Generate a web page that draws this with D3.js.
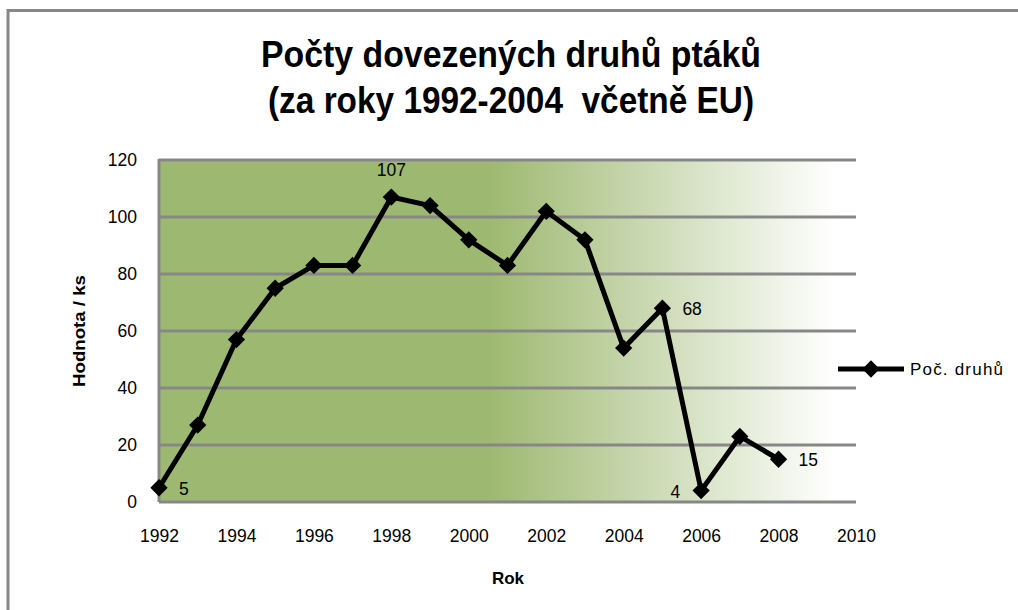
<!DOCTYPE html>
<html>
<head>
<meta charset="utf-8">
<script src="https://cdn.jsdelivr.net/npm/d3@7"></script>
<style>
  body { margin: 0; background: #fff; }
  text { font-family: "Liberation Sans", Arial, sans-serif; fill: #000; white-space: pre; }
</style>
</head>
<body>
<script>
// ---- data ----
const years = [1992, 1993, 1994, 1995, 1996, 1997, 1998, 1999, 2000, 2001, 2002, 2003, 2004, 2005, 2006, 2007, 2008];
const counts = [5, 27, 57, 75, 83, 83, 107, 104, 92, 83, 102, 92, 54, 68, 4, 23, 15];
const xTicks = [1992, 1994, 1996, 1998, 2000, 2002, 2004, 2006, 2008, 2010];
const yTicks = [0, 20, 40, 60, 80, 100, 120];
// which points carry a value label, and on which side
const labelYears = [1992, 1998, 2005, 2006, 2008];
const labelSides = ["right", "top", "right", "left", "right"];
const titleLines = ["Počty dovezených druhů ptáků", "(za roky 1992-2004  včetně EU)"];
const seriesName = "Poč. druhů";

const W = 1018, H = 610;
const plot = {left: 159, top: 160, right: 856, bottom: 502};

const svg = d3.select("body").append("svg")
  .attr("width", W).attr("height", H);

// outer chart frame (runs off the right and bottom edges)
svg.append("rect")
  .attr("x", 8).attr("y", 10.5)
  .attr("width", W + 20).attr("height", H + 20)
  .attr("fill", "#fff").attr("stroke", "#878787").attr("stroke-width", 3);

// title - squeezed to the narrow look of the original font
svg.selectAll(".title").data(titleLines).enter().append("text")
  .attr("class", "title")
  .attr("x", 511)
  .attr("y", (d, i) => 67 + i * 46)
  .attr("text-anchor", "middle")
  .attr("font-size", 36).attr("font-weight", "bold")
  .attr("textLength", (d, i) => i === 0 ? 500 : 486)
  .attr("lengthAdjust", "spacingAndGlyphs")
  .text(d => d);

const x = d3.scaleLinear().domain([1992, 2010]).range([plot.left, plot.right]);
const y = d3.scaleLinear().domain([0, 120]).range([plot.bottom, plot.top]);

// plot background gradient
const defs = svg.append("defs");
const grad = defs.append("linearGradient").attr("id", "bg")
  .attr("x1", "0%").attr("x2", "100%").attr("y1", "0%").attr("y2", "0%");
grad.append("stop").attr("offset", "0%").attr("stop-color", "#9db870");
grad.append("stop").attr("offset", "47%").attr("stop-color", "#9db870");
grad.append("stop").attr("offset", "97%").attr("stop-color", "#ffffff");
grad.append("stop").attr("offset", "100%").attr("stop-color", "#ffffff");

svg.append("rect")
  .attr("x", plot.left).attr("y", plot.top)
  .attr("width", plot.right - plot.left).attr("height", plot.bottom - plot.top)
  .attr("fill", "url(#bg)");

// gridlines
svg.append("g").selectAll("line").data(yTicks.filter(t => t > 0)).enter().append("line")
  .attr("x1", plot.left).attr("x2", plot.right)
  .attr("y1", d => y(d)).attr("y2", d => y(d))
  .attr("stroke", "#878787").attr("stroke-width", 3);

// axes
const yAxis = svg.append("g")
  .attr("transform", `translate(${plot.left},0)`)
  .call(d3.axisLeft(y).tickValues(yTicks).tickSize(0).tickPadding(22));
const xAxis = svg.append("g")
  .attr("transform", `translate(0,${plot.bottom})`)
  .call(d3.axisBottom(x).tickValues(xTicks).tickFormat(d3.format("d")).tickSize(0).tickPadding(28));

[yAxis, xAxis].forEach(g => {
  g.select(".domain").attr("stroke", "#878787").attr("stroke-width", 3);
  g.selectAll("text").attr("font-size", 17.5).attr("font-family", "Liberation Sans, Arial, sans-serif");
});
yAxis.select(".domain").attr("d", `M0,${plot.top - 1}V${plot.bottom}`);
xAxis.select(".domain").attr("d", `M${plot.left},0H${plot.right}`);

// axis titles
svg.append("text")
  .attr("transform", "translate(85,331) rotate(-90)")
  .attr("text-anchor", "middle")
  .attr("font-size", 17).attr("font-weight", "bold")
  .attr("textLength", 112).attr("lengthAdjust", "spacingAndGlyphs")
  .text("Hodnota / ks");
svg.append("text")
  .attr("x", 508).attr("y", 584)
  .attr("text-anchor", "middle")
  .attr("font-size", 17).attr("font-weight", "bold")
  .text("Rok");

// series
const points = years.map((yr, i) => ({year: yr, value: counts[i]}));
const line = d3.line().x(d => x(d.year)).y(d => y(d.value));

svg.append("path")
  .datum(points)
  .attr("d", line)
  .attr("fill", "none").attr("stroke", "#000").attr("stroke-width", 5)
  .attr("stroke-linejoin", "round");

const diamond = d3.symbol().type(d3.symbolDiamond2).size(190);
svg.append("g").selectAll("path").data(points).enter().append("path")
  .attr("transform", d => `translate(${x(d.year)},${y(d.value)})`)
  .attr("d", diamond)
  .attr("fill", "#000");

// value labels
const labelData = labelYears.map((yr, i) => ({year: yr, value: counts[years.indexOf(yr)], side: labelSides[i]}));
svg.append("g").selectAll("text").data(labelData).enter().append("text")
  .attr("x", d => x(d.year) + (d.side === "right" ? 20 : d.side === "left" ? -21 : 0))
  .attr("y", d => y(d.value) + (d.side === "top" ? -21 : 7))
  .attr("text-anchor", d => d.side === "right" ? "start" : d.side === "left" ? "end" : "middle")
  .attr("font-size", 17.5)
  .text(d => d.value);

// legend
const lg = svg.append("g").attr("transform", "translate(838,369)");
lg.append("line").attr("x1", 0).attr("x2", 66).attr("y1", 0).attr("y2", 0)
  .attr("stroke", "#000").attr("stroke-width", 5);
lg.append("path").attr("transform", "translate(33,0)").attr("d", diamond).attr("fill", "#000");
lg.append("text").attr("x", 72).attr("y", 6).attr("font-size", 17)
  .attr("textLength", 93).attr("lengthAdjust", "spacing")
  .text(seriesName);
</script>
</body>
</html>
